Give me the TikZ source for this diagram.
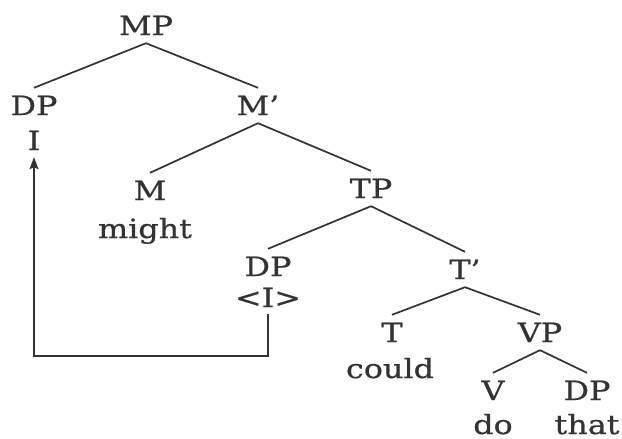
\documentclass[tikz,border=0pt]{standalone}
\usepackage{fontspec}
\setmainfont[FakeStretch=1.2,FakeBold=0.7]{DejaVu Serif}
\usetikzlibrary{arrows.meta}
\begin{document}
\begin{tikzpicture}[x=1pt,y=-1pt,
  lab/.style={anchor=base, font=\fontsize{26.5}{26.5}\selectfont, text=black!80, inner xsep=0pt, inner ysep=0pt},
  cat/.style={lab, text height=19pt, text depth=0pt, inner ysep=8pt},
  word/.style={lab, text height=18pt, text depth=0pt, inner ysep=7pt},
  edge/.style={draw=black!80, line width=1.7pt},
  move/.style={edge, -{Stealth[length=12pt,width=9pt,inset=2pt]}}
]
\useasboundingbox (0,0) rectangle (622,439);
\node[cat] (mp) at (146,35) {MP};
\node[cat] (dpa) at (34,115) {DP};
\node[cat] (mbar) at (258,115) {M’};
\node[word] (ia) at (34,150) {I};
\node[cat] (m) at (150,200) {M};
\node[lab] (might) at (145,238) {might};
\node[cat] (tp) at (371,198) {TP};
\node[cat] (dpb) at (268,276) {DP};
\node[word] (ib) at (268,307) {<I>};
\node[cat] (tbar) at (465,279) {T’};
\node[cat] (t) at (392,342) {T};
\node[lab] (could) at (390,378) {could};
\node[cat] (vp) at (540,342) {VP};
\node[cat] (v) at (493,400) {V};
\node[lab] (do) at (493,434) {do};
\node[cat] (dpc) at (587,400) {DP};
\node[lab] (that) at (587,434) {that};
\draw[edge] (mp.south) -- (dpa.north);
\draw[edge] (mp.south) -- (mbar.north);
\draw[edge] (mbar.south) -- (m.north);
\draw[edge] (mbar.south) -- (tp.north);
\draw[edge] (tp.south) -- (dpb.north);
\draw[edge] (tp.south) -- (tbar.north);
\draw[edge] (tbar.south) -- (t.north);
\draw[edge] (tbar.south) -- (vp.north);
\draw[edge] (vp.south) -- (v.north);
\draw[edge] (vp.south) -- (dpc.north);
\draw[move] (ib.south) -- ++(0,42) -| (ia.south);
\end{tikzpicture}
\end{document}
